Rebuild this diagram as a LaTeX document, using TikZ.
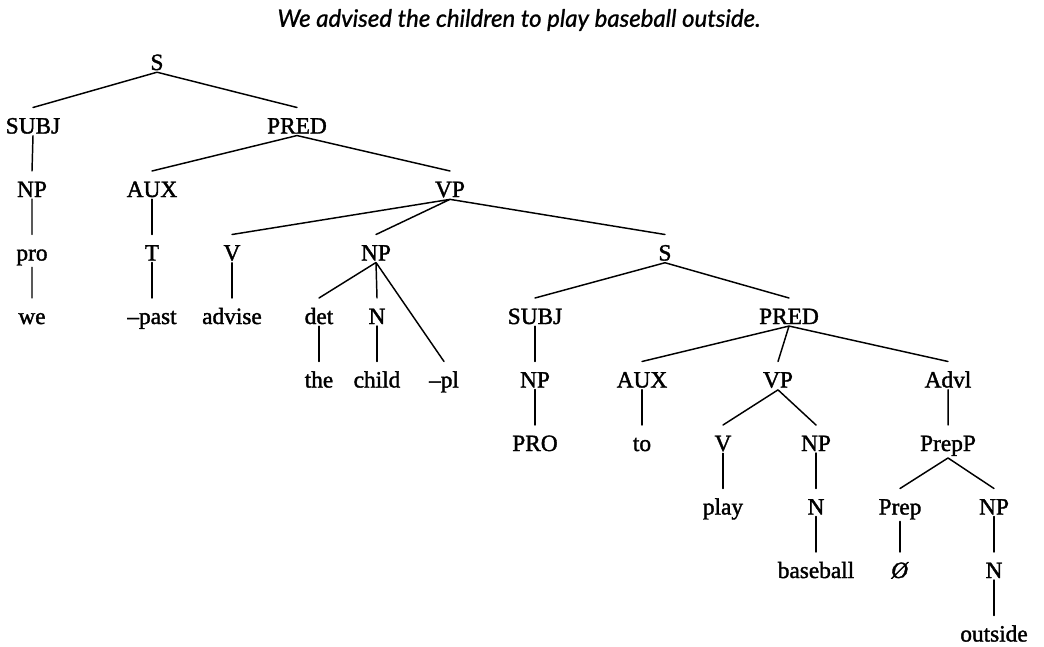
\documentclass[tikz,border=0pt]{standalone}
\usepackage{fontspec}
\setmainfont{Liberation Serif}[FakeBold=1.6]
\newfontfamily\titlefont{Lato}[ItalicFeatures={FakeBold=1.0}]
\begin{document}
\begin{tikzpicture}[x=0.75pt, y=-0.75pt, line join=round, line cap=round, line width=1.1pt,
    font=\fontsize{17.5}{20}\selectfont,
    lab/.style={anchor=base, inner sep=0pt, outer sep=1.5pt, text height=18pt}]
    \useasboundingbox (0,0) rectangle (1044,646);
    \node[font=\titlefont\itshape\fontsize{18}{20}\selectfont] (title) at (519,20) {We advised the children to play baseball outside.};
    % main clause
    \node[lab] (s) at (157,70) {S};
    \node[lab] (subj) at (33,133.5) {SUBJ};
    \node[lab] (pred) at (297,133.5) {PRED};
    \node[lab] (np) at (32,197) {NP};
    \node[lab] (aux) at (152,197) {AUX};
    \node[lab] (vp) at (450,197) {VP};
    \node[lab] (pro) at (32,260.5) {pro};
    \node[lab] (t) at (152,260.5) {T};
    \node[lab] (v) at (232,260.5) {V};
    \node[lab] (npb) at (376,260.5) {NP};
    \node[lab] (sb) at (665,260.5) {S};
    \node[lab] (we) at (32,324) {we};
    \node[lab] (past) at (152,324) {--past};
    \node[lab] (advise) at (232,324) {advise};
    \node[lab] (det) at (319,324) {det};
    \node[lab] (n) at (377,324) {N};
    % embedded clause
    \node[lab] (subjb) at (535,324) {SUBJ};
    \node[lab] (predb) at (789,324) {PRED};
    \node[lab] (the) at (319,387.5) {the};
    \node[lab] (child) at (377,387.5) {child};
    \node[lab] (pl) at (444,387.5) {--pl};
    \node[lab] (npc) at (535,387.5) {NP};
    \node[lab] (auxb) at (642,387.5) {AUX};
    \node[lab] (vpb) at (778,387.5) {VP};
    \node[lab] (advl) at (948,387.5) {Advl};
    \node[lab] (probig) at (535,451) {PRO};
    \node[lab] (to) at (642,451) {to};
    \node[lab] (vb) at (723,451) {V};
    \node[lab] (npd) at (816,451) {NP};
    \node[lab] (prepp) at (948,451) {PrepP};
    \node[lab] (play) at (723,514.5) {play};
    \node[lab] (nb) at (816,514.5) {N};
    \node[lab] (prep) at (900,514.5) {Prep};
    \node[lab] (npe) at (994,514.5) {NP};
    \node[lab] (baseball) at (816,578) {baseball};
    \node[lab] (zero) at (900,578) {\textit{Ø}};
    \node[lab] (nc) at (994,578) {N};
    \node[lab] (outside) at (994,641.5) {outside};
    % branches
    \draw (s.south) -- (subj.north) (s.south) -- (pred.north);
    \draw (subj.south) -- (np.north) (np.south) -- (pro.north) (pro.south) -- (we.north);
    \draw (pred.south) -- (aux.north) (pred.south) -- (vp.north);
    \draw (aux.south) -- (t.north) (t.south) -- (past.north);
    \draw (vp.south) -- (v.north) (vp.south) -- (npb.north) (vp.south) -- (sb.north);
    \draw (v.south) -- (advise.north);
    \draw (npb.south) -- (det.north) (npb.south) -- (n.north) (npb.south) -- (pl.north);
    \draw (det.south) -- (the.north) (n.south) -- (child.north);
    \draw (sb.south) -- (subjb.north) (sb.south) -- (predb.north);
    \draw (subjb.south) -- (npc.north) (npc.south) -- (probig.north);
    \draw (predb.south) -- (auxb.north) (predb.south) -- (vpb.north) (predb.south) -- (advl.north);
    \draw (auxb.south) -- (to.north);
    \draw (vpb.south) -- (vb.north) (vpb.south) -- (npd.north);
    \draw (vb.south) -- (play.north) (npd.south) -- (nb.north) (nb.south) -- (baseball.north);
    \draw (advl.south) -- (prepp.north) (prepp.south) -- (prep.north) (prepp.south) -- (npe.north);
    \draw (prep.south) -- (zero.north) (npe.south) -- (nc.north) (nc.south) -- (outside.north);
\end{tikzpicture}
\end{document}
